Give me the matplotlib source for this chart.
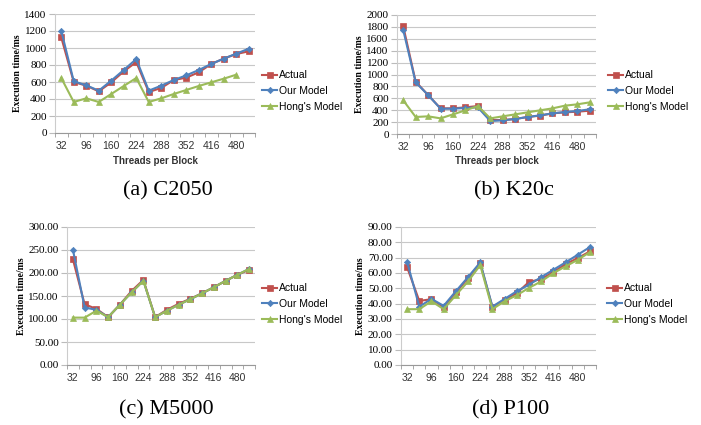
import matplotlib
matplotlib.use("Agg")
import matplotlib.pyplot as plt
import numpy as np

threads = [32, 64, 96, 128, 160, 192, 224, 256, 288, 320, 352, 384, 416, 448, 480, 512]
tick_labels = ["32", "96", "160", "224", "288", "352", "416", "480"]

# (a) C2050
c2050_actual = [1125, 600, 557, 490, 596, 725, 835, 482, 530, 623, 651, 714, 812, 875, 929, 961]
c2050_ours = [1204, 608, 561, 498, 616, 741, 870, 498, 557, 623, 678, 741, 812, 875, 933, 992]
c2050_hong = [647, 365, 408, 365, 459, 553, 647, 365, 408, 459, 506, 553, 596, 639, 686]

# (b) K20c
k20c_actual = [1810, 880, 655, 431, 431, 448, 470, 235, 235, 252, 286, 308, 347, 364, 375, 392]
k20c_ours = [1748, 868, 655, 426, 426, 437, 448, 218, 230, 252, 286, 314, 347, 370, 387, 415]
k20c_hong = [566, 286, 297, 263, 330, 398, 470, 263, 297, 330, 364, 398, 431, 476, 499, 532]

# (c) M5000
m5000_actual = [230, 132, 122, 104, 131, 161, 185, 104, 120, 133, 144, 156, 169, 183, 196, 207]
m5000_ours = [251, 125, 120, 104, 131, 158, 183, 104, 118, 131, 143, 156, 169, 183, 196, 209]
m5000_hong = [103, 103, 118, 104, 131, 158, 183, 104, 118, 131, 143, 156, 169, 183, 196, 209]

# (d) P100
p100_actual = [63.8, 41.8, 42.9, 37.7, 47.3, 56.6, 66.4, 37.7, 42.5, 46.8, 54.2, 56.0, 60.6, 65.8, 69.7, 74.1]
p100_ours = [67.3, 38.1, 43.1, 38.6, 48.1, 57.3, 66.9, 38.1, 43.1, 48.1, 52.3, 57.3, 62.1, 66.9, 71.9, 76.9]
p100_hong = [36.4, 36.4, 41.6, 36.4, 45.5, 54.5, 65.1, 36.4, 41.6, 45.5, 50.3, 54.5, 59.9, 64.3, 68.6, 73.6]

series_names = ["Actual", "Our Model", "Hong's Model"]
colors = ["#C0504D", "#4F81BD", "#9BBB59"]
markers = ["s", "D", "^"]
msizes = [4, 3.2, 4]

W, H = 701, 425
fig = plt.figure(figsize=(W / 100, H / 100), dpi=100)

SERIF = "Liberation Serif"
SANS = "Liberation Sans"


def make_axes(l, r, t, b):
    return fig.add_axes([l / W, 1 - b / H, (r - l) / W, (b - t) / H])


panels = [
    dict(box=(55, 255, 14, 133), data=(c2050_actual, c2050_ours, c2050_hong),
         ylim=(0, 1400), ystep=200, fmt="{:.0f}", xlabel="Threads per Block",
         caption="(a) C2050", cap=(168, 191), leg=(257, 91)),
    dict(box=(397, 596, 15, 134), data=(k20c_actual, k20c_ours, k20c_hong),
         ylim=(0, 2000), ystep=200, fmt="{:.0f}", xlabel="Threads per block",
         caption="(b) K20c", cap=(514, 191), leg=(603, 91)),
    dict(box=(67, 255, 227, 365), data=(m5000_actual, m5000_ours, m5000_hong),
         ylim=(0, 300), ystep=50, fmt="{:.2f}", xlabel=None,
         caption="(c) M5000", cap=(166, 410), leg=(257, 304)),
    dict(box=(401, 596, 227, 365), data=(p100_actual, p100_ours, p100_hong),
         ylim=(0, 90), ystep=10, fmt="{:.2f}", xlabel=None,
         caption="(d) P100", cap=(511, 410), leg=(602, 304)),
]

for p in panels:
    l, r, t, b = p["box"]
    ax = make_axes(l, r, t, b)
    x = np.arange(len(threads))
    handles = []
    for vals, name, c, m, ms in zip(p["data"], series_names, colors, markers, msizes):
        h, = ax.plot(x[:len(vals)], vals, color=c, marker=m, markersize=ms,
                     linewidth=1.5, label=name, markeredgewidth=0.5)
        handles.append(h)
    ax.set_xlim(-0.5, len(threads) - 0.5)
    ax.set_ylim(*p["ylim"])
    yt = np.arange(p["ylim"][0], p["ylim"][1] + p["ystep"] / 2, p["ystep"])
    ax.set_yticks(yt)
    ax.set_yticklabels([p["fmt"].format(v) for v in yt], fontfamily=SERIF, fontsize=8)
    ax.grid(axis="y", color="#C8C8C8", linewidth=0.8)
    ax.set_axisbelow(True)
    # category labels every other category
    ax.set_xticks(x[::2])
    ax.set_xticklabels(tick_labels, fontfamily=SANS, fontsize=7.5, color="#333333")
    ax.tick_params(axis="x", length=0, pad=6)
    ax.set_xticks(np.arange(-0.5, len(threads)), minor=True)
    ax.tick_params(axis="x", which="minor", length=3, color="#999999")
    ax.tick_params(axis="y", length=4, width=0.8, color="#BBBBBB", pad=2)
    for s in ["top", "right"]:
        ax.spines[s].set_visible(False)
    ax.spines["left"].set_color("#CCCCCC")
    ax.spines["left"].set_linewidth(0.8)
    ax.spines["bottom"].set_color("#999999")
    ax.set_ylabel("Execution time/ms", fontfamily=SERIF, fontweight="bold", fontsize=7, labelpad=2)
    if p["xlabel"]:
        ax.set_xlabel(p["xlabel"], fontfamily=SANS, fontweight="bold", fontsize=7, labelpad=3, color="#333333")
    cx, cy = p["cap"]
    fig.text(cx / W, 1 - cy / H, p["caption"], fontfamily=SERIF,
             fontsize=16, ha="center", va="center")
    lx, ly = p["leg"]
    ax.legend(handles=handles, loc="center left", bbox_to_anchor=(lx / W, 1 - ly / H),
              bbox_transform=fig.transFigure, frameon=False,
              handlelength=1.4, handletextpad=0.2, labelspacing=0.55,
              prop={"family": SANS, "size": 7.5}, borderpad=0)

fig.savefig("out.png", dpi=100)
